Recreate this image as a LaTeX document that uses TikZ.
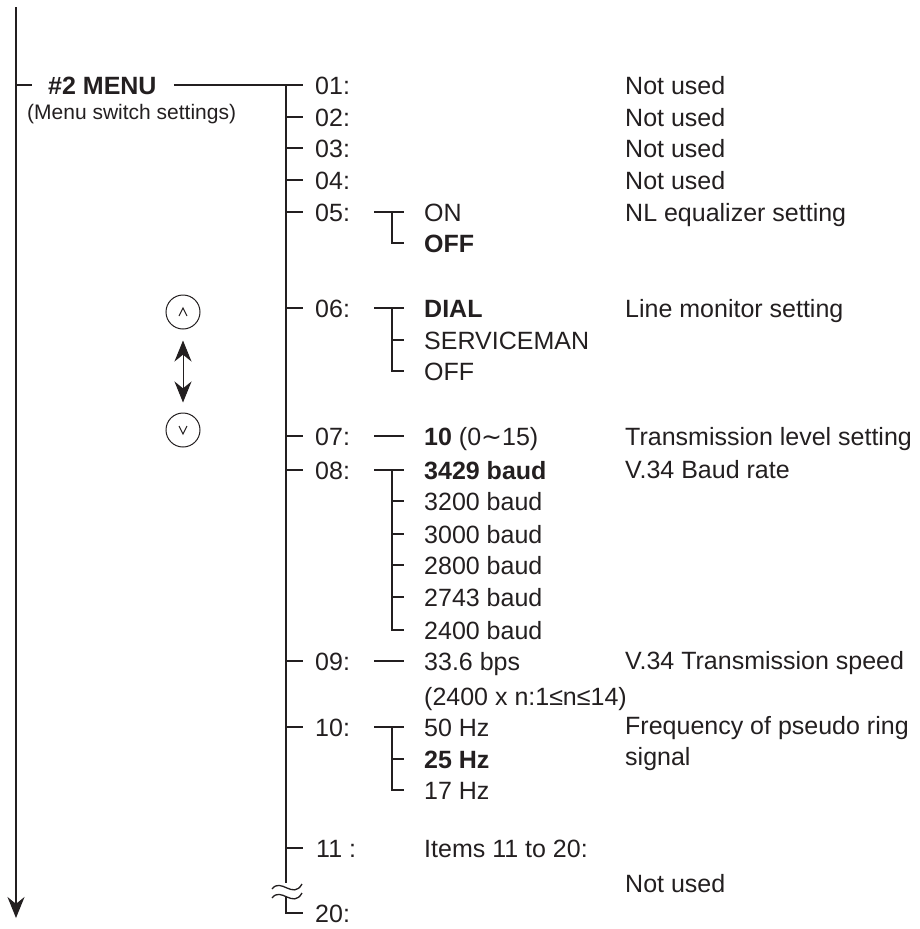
\documentclass[tikz,border=0pt]{standalone}
\usepackage{fontspec}
\setmainfont{Liberation Sans}
\newfontfamily\dejavu{DejaVu Sans}
\usetikzlibrary{arrows.meta}
\definecolor{ink}{RGB}{35,31,32}
\begin{document}
\begin{tikzpicture}[x=1pt,y=-1pt,
  lab/.style={anchor=west, inner sep=0pt, text height=18pt, text depth=0pt,
              font=\fontsize{25}{30}\selectfont, text=ink},
  blab/.style={lab, font=\fontsize{25}{30}\selectfont\bfseries},
  conn/.style={draw=ink, line width=1.3pt},
  thin/.style={draw=ink, line width=1pt},
]
\useasboundingbox (0,0) rectangle (920,929);

% main trunk with arrow
\coordinate (mainTop) at (16,7);
\coordinate (mainBot) at (16,918);
\draw[conn, -{Stealth[length=21pt,width=17pt]}] (mainTop) -- (mainBot);

% menu title
\node[blab] (menu) at (48,85) {\#2 MENU};
\node[anchor=west, inner sep=0pt, text height=15pt, text depth=0pt,
      font=\fontsize{21}{25}\selectfont, text=ink] (menusub) at (27,112) {(Menu switch settings)};

% level-1 labels
\node[lab] (n01) at (315,85) {01:};
\node[lab] (n02) at (315,117) {02:};
\node[lab] (n03) at (315,148) {03:};
\node[lab] (n04) at (315,180) {04:};
\node[lab] (n05) at (315,212) {05:};
\node[lab] (n06) at (315,308) {06:};
\node[lab] (n07) at (315,436) {07:};
\node[lab] (n08) at (315,470) {08:};
\node[lab] (n09) at (315,661) {09:};
\node[lab] (n10) at (315,727) {10:};
\node[lab] (n11) at (316,848) {11 :};
\node[lab] (n20) at (315,913) {20:};

% trunk 2
\coordinate (trTop) at (286,85);
\coordinate (trBreak) at (286,883);
\coordinate (trResume) at (286,897);
\draw[conn] (trTop) -- (trBreak);
\draw[conn] (trResume) |- ([xshift=-12pt]n20.west);
\foreach \n in {02,03,04,05,06,07,08,09,10}
  \draw[conn] (n\n.west -| trTop) -- ([xshift=-12pt]n\n.west);
\draw[conn] (n11.west -| trTop) -- ([xshift=-13pt]n11.west);

% menu connectors
\draw[conn] (menu.west -| mainTop) -- ([xshift=-16pt]menu.west);
\draw[conn] ([xshift=17pt]menu.east) -- ([xshift=-12pt]n01.west);

% break mark
\draw[conn] (272,889) .. controls (281,877) and (293,900) .. (302,884);
\draw[conn] (272,898) .. controls (281,886) and (293,909) .. (302,893);

% level-2 labels
\node[lab]  (on)   at (424,212) {ON};
\node[blab] (off)  at (424,243) {OFF};
\node[blab] (dial) at (424,308) {DIAL};
\node[lab]  (serv) at (424,340) {SERVICEMAN};
\node[lab]  (offb) at (424,371) {OFF};
\node[lab]  (lvl)  at (424,436) {\textbf{10} (0{\dejavu ∼}15)};
\node[blab] (b1)   at (424,470) {3429 baud};
\node[lab]  (b2)   at (424,501) {3200 baud};
\node[lab]  (b3)   at (424,534) {3000 baud};
\node[lab]  (b4)   at (424,565) {2800 baud};
\node[lab]  (b5)   at (424,597) {2743 baud};
\node[lab]  (b6)   at (424,630) {2400 baud};
\node[lab]  (spd)  at (424,661) {33.6 bps};
\node[lab]  (spd2) at (424,696) {(2400 x n:1≤n≤14)};
\node[lab]  (h50)  at (424,727) {50 Hz};
\node[blab] (h25)  at (424,759) {25 Hz};
\node[lab]  (h17)  at (424,790) {17 Hz};
\node[lab]  (items) at (424,848) {Items 11 to 20:};

% level-2 connectors
\draw[conn] ([xshift=-50pt]on.west) -- ([xshift=-20pt]on.west);
\draw[conn] ([xshift=-32pt]on.west) |- ([xshift=-20pt]off.west);
\draw[conn] ([xshift=-50pt]dial.west) -- ([xshift=-20pt]dial.west);
\draw[conn] ([xshift=-32pt]dial.west) |- ([xshift=-20pt]offb.west);
\draw[conn] ([xshift=-32pt]serv.west) -- ([xshift=-20pt]serv.west);
\draw[conn] ([xshift=-50pt]lvl.west) -- ([xshift=-20pt]lvl.west);
\draw[conn] ([xshift=-50pt]b1.west) -- ([xshift=-20pt]b1.west);
\draw[conn] ([xshift=-32pt]b1.west) |- ([xshift=-20pt]b6.west);
\foreach \b in {b2,b3,b4,b5}
  \draw[conn] ([xshift=-32pt]\b.west) -- ([xshift=-20pt]\b.west);
\draw[conn] ([xshift=-50pt]spd.west) -- ([xshift=-20pt]spd.west);
\draw[conn] ([xshift=-50pt]h50.west) -- ([xshift=-20pt]h50.west);
\draw[conn] ([xshift=-32pt]h50.west) |- ([xshift=-20pt]h17.west);
\draw[conn] ([xshift=-32pt]h25.west) -- ([xshift=-20pt]h25.west);

% descriptions
\node[lab] (d01) at (625,85) {Not used};
\node[lab] (d02) at (625,117) {Not used};
\node[lab] (d03) at (625,148) {Not used};
\node[lab] (d04) at (625,180) {Not used};
\node[lab] (d05) at (625,212) {NL equalizer setting};
\node[lab] (d06) at (625,308) {Line monitor setting};
\node[lab] (d07) at (625,436) {Transmission level setting};
\node[lab] (d08) at (625,469) {V.34 Baud rate};
\node[lab] (d09) at (625,660) {V.34 Transmission speed};
\node[lab] (d10) at (625,725) {Frequency of pseudo ring};
\node[lab] (d10b) at (625,756) {signal};
\node[lab] (d11) at (625,883) {Not used};

% up/down keys
\node[circle, thin, minimum size=34pt, inner sep=0pt] (up) at (183,312) {};
\node[circle, thin, minimum size=34pt, inner sep=0pt] (dn) at (183,430) {};
\draw[thin, line join=miter] ([shift={(-4,4)}]up.center) -- ([shift={(0,-4)}]up.center) -- ([shift={(4,4)}]up.center);
\draw[thin, line join=miter] ([shift={(-4,-4)}]dn.center) -- ([shift={(0,4)}]dn.center) -- ([shift={(4,-4)}]dn.center);
\draw[thin, {Stealth[length=21pt,width=17pt]}-{Stealth[length=21pt,width=17pt]},
      shorten <=11pt, shorten >=10pt] (up) -- (dn);
\end{tikzpicture}
\end{document}
